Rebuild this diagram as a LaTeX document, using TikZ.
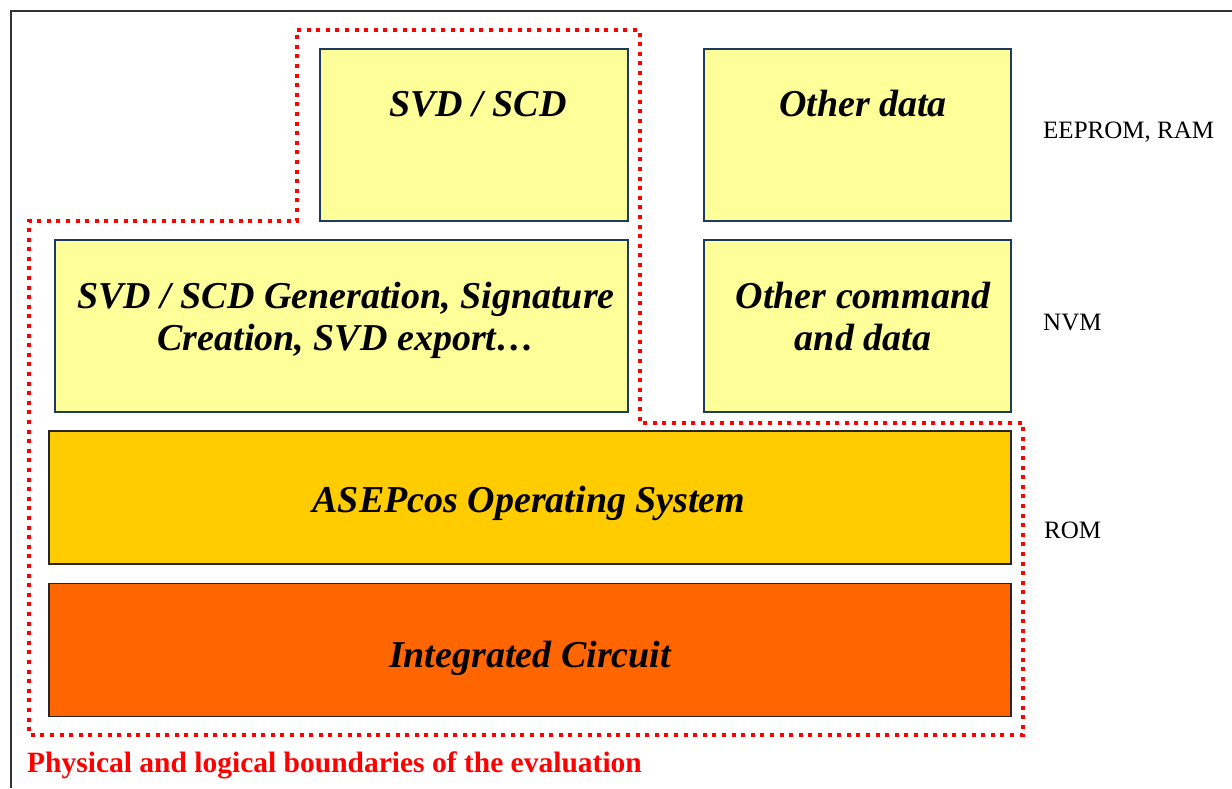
\documentclass[tikz,border=0pt]{standalone}
\usepackage{fontspec}
\setmainfont{Liberation Serif}
\definecolor{boxyellow}{HTML}{FFFF99}
\definecolor{osyellow}{HTML}{FFCC00}
\definecolor{icorange}{HTML}{FF6600}
\definecolor{navyedge}{HTML}{1F3A60}
\definecolor{redline}{HTML}{FF0000}
\tikzset{
  layerbox/.style={draw=navyedge, line width=1.3pt, fill=boxyellow, inner sep=0pt},
  corebox/.style={draw=black!85, line width=1.8pt, inner sep=0pt},
  boxtext/.style={font=\fontsize{38}{42}\selectfont\bfseries\itshape, align=center, inner sep=0pt},
  sidetext/.style={font=\fontsize{25}{29}\selectfont, anchor=west, inner sep=0pt},
  boundary/.style={draw=redline, line width=4pt, dash pattern=on 4pt off 5.6pt},
  frameline/.style={draw=black!80, line width=1.6pt}
}
\begin{document}
\begin{tikzpicture}[x=1pt,y=-1pt]
\useasboundingbox (0,0) rectangle (1232,788);
% outer frame (top and left edges visible)
\coordinate (ftr) at (1232,11);
\coordinate (ftl) at (11,11);
\coordinate (fbl) at (11,788);
\draw[frameline] (ftr) -- (ftl) -- (fbl);
% boxes
\node[layerbox, minimum width=308pt, minimum height=172pt] (svd) at (474,135) {};
\node[layerbox, minimum width=307pt, minimum height=172pt] (other) at (857.5,135) {};
\node[layerbox, minimum width=573pt, minimum height=172pt] (gen) at (341.5,326) {};
\node[layerbox, minimum width=307pt, minimum height=172pt] (othercmd) at (857.5,326) {};
\node[corebox, fill=osyellow, minimum width=962pt, minimum height=133pt] (os) at (530,497.5) {};
\node[corebox, fill=icorange, minimum width=962pt, minimum height=133pt] (ic) at (530,650) {};
% box texts
\node[boxtext] (svdt) at (478,104) {SVD / SCD};
\node[boxtext] (othert) at (863,104) {Other data};
\node[boxtext] (gent) at (346,320) {SVD / SCD Generation, Signature\\Creation, SVD export\ldots};
\node[boxtext] (othercmdt) at (863,317) {Other command\\and data};
\node[boxtext] (ost) at (529,503) {ASEPcos Operating System};
\node[boxtext] (ict) at (530,658) {Integrated Circuit};
% side labels
\node[sidetext] (eeprom) at (1043,132) {EEPROM, RAM};
\node[sidetext] (nvm) at (1043,322) {NVM};
\node[sidetext] (rom) at (1044,530) {ROM};
% boundary
\coordinate (b1) at (297,30);
\coordinate (b2) at (640,30);
\coordinate (b3) at (640,423);
\coordinate (b4) at (1023,423);
\coordinate (b5) at (1023,735);
\coordinate (b6) at (29,735);
\coordinate (b7) at (29,221);
\coordinate (b8) at (297,221);
\draw[boundary] (b1) -- (b2) -- (b3) -- (b4) -- (b5) -- (b6) -- (b7) -- (b8) -- cycle;
\node[font=\fontsize{29.5}{33}\selectfont\bfseries, text=redline, anchor=west, inner sep=0pt] (bl) at (27,765) {Physical and logical boundaries of the evaluation};
\end{tikzpicture}
\end{document}
